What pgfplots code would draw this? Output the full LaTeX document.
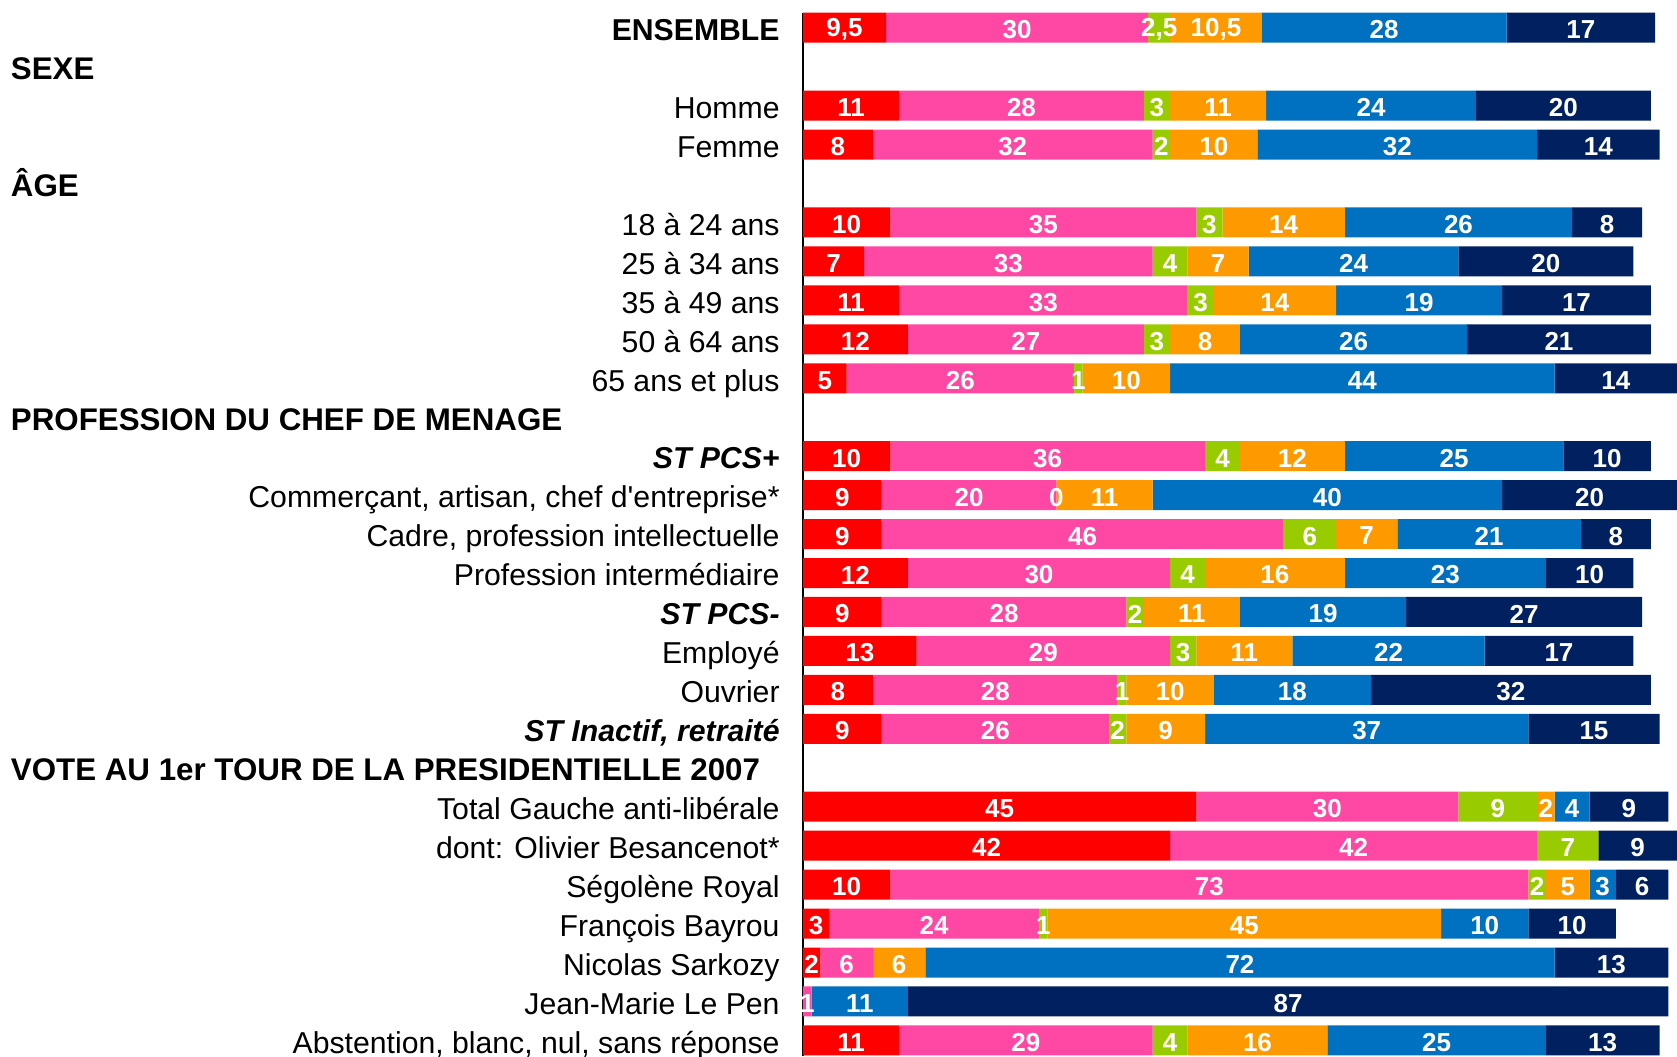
\documentclass[border=0pt]{standalone}
\usepackage{fontspec}
\setmainfont{Liberation Sans}
\usepackage{pgfplots}
\usepackage{pgfplotstable}
\pgfplotsset{compat=1.18}

\definecolor{cRed}{HTML}{FF0000}
\definecolor{cPink}{HTML}{FF47A3}
\definecolor{cGreen}{HTML}{99CC00}
\definecolor{cOrange}{HTML}{FF9900}
\definecolor{cBlue}{HTML}{0070C0}
\definecolor{cNavy}{HTML}{002060}

% row index (0 = top), the six shares, then the label printed on each segment
\pgfplotstableread{
row red  pink green orange blue navy lr  lp  lg  lo   lb  ln
0   9.5  30   2.5   10.5   28   17   9,5 30  2,5 10,5 28  17
2   11   28   3     11     24   20   11  28  3   11   24  20
3   8    32   2     10     32   14   8   32  2   10   32  14
5   10   35   3     14     26   8    10  35  3   14   26  8
6   7    33   4     7      24   20   7   33  4   7    24  20
7   11   33   3     14     19   17   11  33  3   14   19  17
8   12   27   3     8      26   21   12  27  3   8    26  21
9   5    26   1     10     44   14   5   26  1   10   44  14
11  10   36   4     12     25   10   10  36  4   12   25  10
12  9    20   0     11     40   20   9   20  0   11   40  20
13  9    46   6     7      21   8    9   46  6   7    21  8
14  12   30   4     16     23   10   12  30  4   16   23  10
15  9    28   2     11     19   27   9   28  2   11   19  27
16  13   29   3     11     22   17   13  29  3   11   22  17
17  8    28   1     10     18   32   8   28  1   10   18  32
18  9    26   2     9      37   15   9   26  2   9    37  15
20  45   30   9     2      4    9    45  30  9   2    4   9
21  42   42   7     0      0    9    42  42  7   {}   {}  9
22  10   73   2     5      3    6    10  73  2   5    3   6
23  3    24   1     45     10   10   3   24  1   45   10  10
24  2    6    0     6      72   13   2   6   {}  6    72  13
25  0    1    0     0      11   87   {}  1   {}  {}   11  87
26  11   29   4     16     25   13   11  29  4   16   25  13
}\vote

\newcommand{\hdr}[2]{\node[anchor=base west, inner sep=0pt,
  font=\bfseries\fontsize{15.65}{18}\selectfont]
  at ([xshift=-396.2pt, yshift=-6.5pt]axis cs:0,#1) {#2};}

\tikzset{vallabel/.style={font=\bfseries\fontsize{13}{13}\selectfont,
                          text=white, anchor=center, inner sep=0pt, yshift=-1pt}}
\pgfplotsset{seg/.style={fill=#1, draw=none}}

\begin{document}
\begin{tikzpicture}
\begin{axis}[
    name=ax,
    xbar stacked, bar width=15pt,
    x=4.37pt, y=19.475pt,
    xmin=0, xmax=100, ymin=-0.39, ymax=26.41,
    y dir=reverse,
    enlargelimits=false,
    axis x line=none, axis y line*=left,
    axis line style={black, line width=1pt},
    clip=false,
    ytick={0,2,3,5,6,7,8,9,11,12,13,14,15,16,17,18,20,21,22,23,24,25,26},
    yticklabels={
      {\textbf{ENSEMBLE}}, Homme, Femme,
      18 à 24 ans, 25 à 34 ans, 35 à 49 ans, 50 à 64 ans, 65 ans et plus,
      {\textbf{\textit{ST PCS+}}},
      {Commerçant, artisan, chef d\textquotesingle entreprise*},
      {Cadre, profession intellectuelle}, Profession intermédiaire,
      {\textbf{\textit{ST PCS-}}}, Employé, Ouvrier,
      {\textbf{\textit{ST Inactif, retraité}}},
      Total Gauche anti-libérale, dont: Olivier Besancenot*,
      Ségolène Royal, François Bayrou, Nicolas Sarkozy, Jean-Marie Le Pen,
      {Abstention, blanc, nul, sans réponse}},
    ytick style={draw=none},
    yticklabel style={font=\fontsize{15.1}{18}\selectfont, anchor=base east,
                      inner sep=0pt, xshift=-11.5pt, yshift=-6.4pt},
    point meta=explicit symbolic,
    nodes near coords,
    every node near coord/.append style={vallabel},
]
\addplot[seg=cRed]    table[x=red,    y=row, meta=lr] {\vote};
\addplot[seg=cPink]   table[x=pink,   y=row, meta=lp] {\vote};
\addplot[seg=cGreen]  table[x=green,  y=row, meta=lg] {\vote};
\addplot[seg=cOrange] table[x=orange, y=row, meta=lo] {\vote};
\addplot[seg=cBlue]   table[x=blue,   y=row, meta=lb] {\vote};
\addplot[seg=cNavy]   table[x=navy,   y=row, meta=ln] {\vote};

% where the zero share of the commercants row is printed (9 + 20 = 29)
\coordinate (zero) at (axis cs:29,12);

\hdr{1}{SEXE}
\hdr{4}{ÂGE}
\hdr{10}{PROFESSION DU CHEF DE MENAGE}
\hdr{19}{VOTE AU 1er TOUR DE LA PRESIDENTIELLE 2007}
\end{axis}
% a bar of no length gets no node near coords, so its "0" is set here
\node[vallabel] at (zero) {0};
\pgfresetboundingbox
\path (ax.south west) ++(-401.5pt,0) rectangle ([yshift=6.25pt]ax.north east);
\end{tikzpicture}
\end{document}
